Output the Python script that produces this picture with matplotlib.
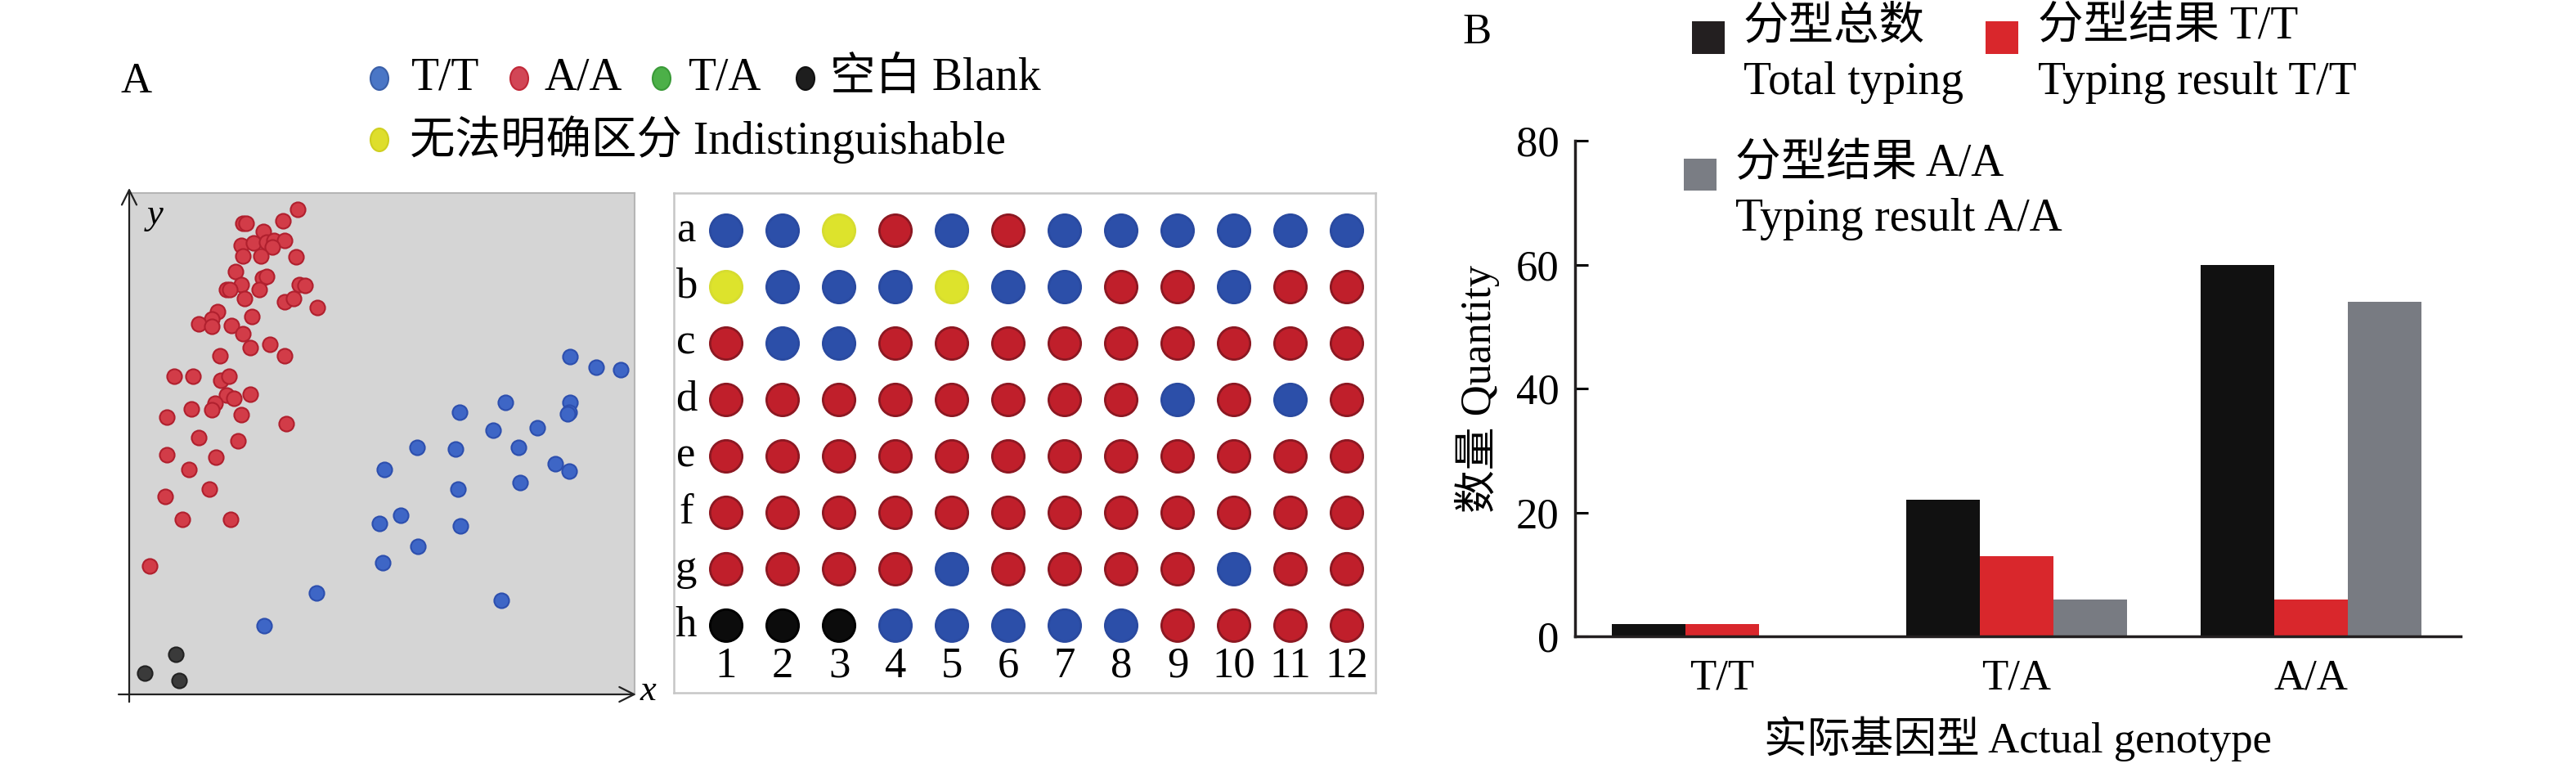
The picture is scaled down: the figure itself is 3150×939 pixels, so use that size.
import matplotlib
matplotlib.use('Agg')
import matplotlib.pyplot as plt
from matplotlib.patches import Rectangle, Ellipse

plt.rcParams['font.family'] = ['Liberation Serif', 'Noto Sans CJK SC']

W, H = 3150, 939

# --- A: scatter (relative units 0-100) ---
aa_x = [33.3, 22.5, 23.2, 30.4, 26.6, 22.2, 24.6, 27.2, 28.6, 30.8, 28.3, 22.5, 26.1, 33.0,
        21.0, 26.3, 27.2, 22.2, 19.2, 19.9, 25.7, 22.8, 33.7, 34.8, 30.8, 32.6, 37.2, 17.4,
        16.4, 24.3, 13.8, 16.3, 20.3, 22.5, 23.9, 27.9, 30.8, 18.0, 8.9, 12.7, 18.1, 19.8,
        19.2, 20.7, 23.9, 17.0, 16.3, 12.3, 7.5, 22.2, 31.0, 13.8, 21.5, 7.5, 17.2, 11.8,
        15.9, 7.1, 10.5, 20.1, 4.1]
aa_y = [96.7, 94.0, 94.0, 94.4, 92.4, 89.5, 90.0, 90.2, 90.5, 90.5, 89.2, 87.5, 87.5, 87.3,
        84.3, 83.1, 83.4, 81.7, 80.7, 80.7, 80.7, 79.0, 81.7, 81.6, 78.3, 79.0, 77.1, 76.3,
        74.9, 75.3, 73.9, 73.4, 73.6, 71.9, 69.2, 69.8, 67.6, 67.5, 63.5, 63.5, 62.6, 63.5,
        59.7, 59.0, 59.9, 58.1, 56.7, 56.9, 55.3, 55.8, 54.0, 51.3, 50.5, 47.8, 47.3, 44.9,
        41.0, 39.5, 34.9, 34.9, 25.6]
tt_x = [87.2, 92.4, 97.2, 74.4, 65.4, 87.2, 87.0, 86.7, 72.0, 80.8, 56.9, 64.6, 77.0,
        50.5, 84.3, 87.1, 65.1, 77.4, 53.8, 49.5, 65.6, 57.1, 50.1, 37.0, 73.6, 26.7]
tt_y = [67.3, 65.3, 64.7, 58.3, 56.3, 58.3, 56.3, 55.9, 52.7, 53.1, 49.3, 49.0, 49.3,
        44.9, 46.0, 44.6, 41.0, 42.2, 35.8, 34.1, 33.6, 29.5, 26.3, 20.3, 18.8, 13.7]
blank_x = [9.3, 3.1, 9.8]
blank_y = [8.0, 4.2, 2.8]

# --- A: 96-well plate ---
plate_rows = ['a', 'b', 'c', 'd', 'e', 'f', 'g', 'h']
plate_cols = [1, 2, 3, 4, 5, 6, 7, 8, 9, 10, 11, 12]
plate_calls = [
    'TTYATATTTTTT',
    'YTTTYTTAATAA',
    'ATTAAAAAAAAA',
    'AAAAAAAATATA',
    'AAAAAAAAAAAA',
    'AAAAAAAAAAAA',
    'AAAATAAAATAA',
    'KKKTTTTTAAAA',
]

# --- B: bar chart ---
genotypes = ['T/T', 'T/A', 'A/A']
total_typing = [2, 22, 60]
result_tt = [2, 13, 6]
result_aa = [0, 6, 54]


def box(x0, y0, x1, y1):
    return [x0 / W, 1 - y1 / H, (x1 - x0) / W, (y1 - y0) / H]


FS = 38
LFS = 40
fig = plt.figure(figsize=(W / 100, H / 100), dpi=100)

# ---------------- panel A legend ----------------
fig.text(167 / W, 1 - 100 / H, 'A', fontsize=FS, ha='center', va='center')
leg_a = [
    (464, 96, '#4a76c6', '#3a5fa8', 503, 'T/T'),
    (635, 96, '#d24656', '#c02838', 666, 'A/A'),
    (809, 96, '#4cb048', '#3a9a38', 842, 'T/A'),
    (985, 96, '#1e1e1e', '#111111', 1015, '空白 Blank'),
    (464, 171, '#dede2c', '#cfcf20', 501, '无法明确区分 Indistinguishable'),
]
for mx, my, fc, ec, tx, label in leg_a:
    fig.add_artist(Ellipse((mx / W, 1 - my / H), 22 / W, 28 / H,
                           transform=fig.transFigure, facecolor=fc, edgecolor=ec, lw=1.5))
    fig.text(tx / W, 1 - my / H, label, fontsize=LFS, ha='left', va='center')

# ---------------- panel A scatter ----------------
ax1 = fig.add_axes(box(158, 236, 776, 849))
ax1.set_facecolor('#d5d5d5')
ax1.scatter(aa_x, aa_y, s=170, c='#d23c48', edgecolors='#b0202e', linewidths=1.5, zorder=3)
ax1.scatter(tt_x, tt_y, s=170, c='#3e66c6', edgecolors='#2d4fae', linewidths=1.5, zorder=3)
ax1.scatter(blank_x, blank_y, s=170, c='#3a3a3a', edgecolors='#222222', linewidths=1.5, zorder=3)
ax1.set_xlim(0, 100)
ax1.set_ylim(0, 100)
ax1.set_xticks([])
ax1.set_yticks([])
for s in ['left', 'bottom']:
    ax1.spines[s].set_visible(False)
for s in ['top', 'right']:
    ax1.spines[s].set_color('#b5b5b5')
    ax1.spines[s].set_linewidth(1.5)
arr = dict(arrowstyle='->,head_length=0.5,head_width=0.25', lw=1.6, color='#222222',
           mutation_scale=26, shrinkA=0, shrinkB=0)
ax1.annotate('', xy=(0, 1.01), xytext=(0, -0.015), xycoords='axes fraction',
             textcoords='axes fraction', arrowprops=arr, annotation_clip=False)
ax1.annotate('', xy=(1.003, 0), xytext=(-0.021, 0), xycoords='axes fraction',
             textcoords='axes fraction', arrowprops=arr, annotation_clip=False)
fig.text(190 / W, 1 - 263 / H, 'y', fontsize=32, style='italic', ha='center', va='center')
fig.text(792 / W, 1 - 845 / H, 'x', fontsize=32, style='italic', ha='center', va='center')

# ---------------- panel A plate ----------------
ax2 = fig.add_axes(box(824, 236, 1682, 847))
face = {'T': '#2c4fa9', 'A': '#c01f2b', 'Y': '#dde32c', 'K': '#0c0c0c'}
edge = {'T': '#2a4aa0', 'A': '#8c1822', 'Y': '#d6dc30', 'K': '#000000'}
px, py, pfc, pec = [], [], [], []
for r, row in enumerate(plate_calls):
    for c, code in enumerate(row):
        px.append(plate_cols[c])
        py.append(r)
        pfc.append(face[code])
        pec.append(edge[code])
ax2.scatter(px, py, s=800, c=pfc, edgecolors=pec, linewidths=2, zorder=3)
for r, name in enumerate(plate_rows):
    ax2.text(0.29, r, name, fontsize=FS, ha='center', va='center')
for c in plate_cols:
    ax2.text(c, 7.72, str(c), fontsize=FS, ha='center', va='center')
ax2.set_xlim(0.072, 12.507)
ax2.set_ylim(8.19, -0.667)
ax2.set_xticks([])
ax2.set_yticks([])
for s in ax2.spines.values():
    s.set_color('#c6c6c6')
    s.set_linewidth(1.8)

# ---------------- panel B bars ----------------
fig.text(1806 / W, 1 - 40 / H, 'B', fontsize=FS, ha='center', va='center')
ax3 = fig.add_axes(box(1926, 172, 3009, 778))
xs = list(range(len(genotypes)))
bw = 0.25
ax3.bar([x - bw for x in xs], total_typing, width=bw, color='#111111', zorder=2)
ax3.bar(xs, result_tt, width=bw, color='#d9272c', zorder=2)
ax3.bar([x + bw for x in xs], result_aa, width=bw, color='#787b82', zorder=2)
ax3.set_xlim(-0.5, 2.508)
ax3.set_ylim(0, 80)
ax3.set_yticks([0, 20, 40, 60, 80])
ax3.set_xticks(xs)
ax3.set_xticklabels(genotypes)
ax3.tick_params(axis='y', direction='in', length=11.5, width=2.2, labelsize=FS, pad=14)
ax3.tick_params(axis='x', length=0, labelsize=FS, pad=20)
for s in ['top', 'right']:
    ax3.spines[s].set_visible(False)
for s in ['left', 'bottom']:
    ax3.spines[s].set_linewidth(2.5)
    ax3.spines[s].set_color('#231f20')
ax3.set_xlabel('实际基因型 Actual genotype', fontsize=FS, labelpad=16)
ax3.set_ylabel('数量 Quantity', fontsize=FS, labelpad=14)

# legend of B
leg_b = [
    ((2069, 26, 2109, 66), '#231f20', 2132, 47, '分型总数', 115, 'Total typing'),
    ((2428, 26, 2468, 66), '#d9272c', 2492, 47, '分型结果 T/T', 115, 'Typing result T/T'),
    ((2059, 194, 2099, 233), '#7a7d84', 2122, 215, '分型结果 A/A', 282, 'Typing result A/A'),
]
for (x0, y0, x1, y1), col, tx, b1, t1, b2, t2 in leg_b:
    fig.add_artist(Rectangle((x0 / W, 1 - y1 / H), (x1 - x0) / W, (y1 - y0) / H,
                             transform=fig.transFigure, facecolor=col, edgecolor='none'))
    fig.text(tx / W, 1 - b1 / H, t1, fontsize=LFS, ha='left', va='baseline')
    fig.text(tx / W, 1 - b2 / H, t2, fontsize=LFS, ha='left', va='baseline')

fig.savefig('out.png', dpi=100)
